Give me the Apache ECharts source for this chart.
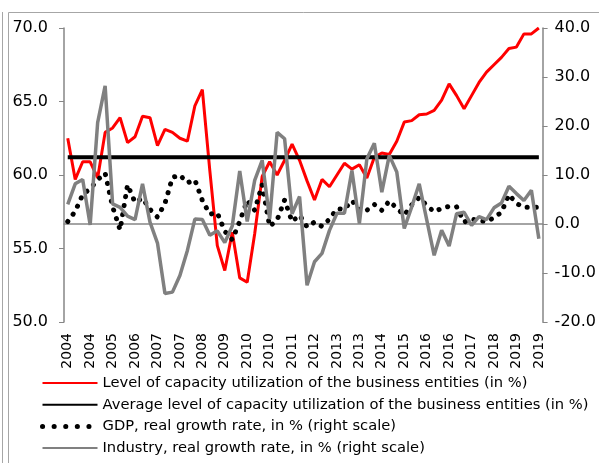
<!DOCTYPE html>
<html>
<head>
<meta charset="utf-8">
<script src="https://cdn.jsdelivr.net/npm/echarts@6/dist/echarts.min.js"></script>
<style>
  html, body { margin: 0; padding: 0; background: #fff; }
  #chart { width: 599px; height: 463px; }
</style>
</head>
<body>
<div id="chart"></div>
<script>
// quarterly data, 2004Q1 - 2019Q4
const years = ['2004', '2005', '2006', '2007', '2008', '2009', '2010', '2011',
  '2012', '2013', '2014', '2015', '2016', '2017', '2018', '2019']
const categories = []
years.forEach((y) => { for (let q = 0; q < 4; q++) categories.push(y) })

// capacity utilization, % (left scale)
const capacityUtil = [
  62.5, 59.7, 60.9, 60.9, 59.8, 62.9, 63.2, 63.9, 62.2, 62.6,
  64.0, 63.9, 62.0, 63.1, 62.9, 62.5, 62.3, 64.7, 65.8, 60.3,
  55.2, 53.5, 56.1, 53.0, 52.7, 56.0, 59.9, 60.9, 60.0, 61.0,
  62.1, 61.0, 59.6, 58.3, 59.7, 59.2, 60.0, 60.8, 60.4, 60.7,
  59.8, 61.2, 61.5, 61.4, 62.3, 63.6, 63.7, 64.1, 64.15, 64.4,
  65.1, 66.2, 65.4, 64.5, 65.4, 66.3, 67.0, 67.5, 68.0, 68.6,
  68.7, 69.6, 69.6, 70.0,
]
// average capacity utilization, %
const avgCapacity = 61.2

// GDP real growth, % (right scale)
const gdpGrowth = [
  0.5, 2.6, 6.0, 7.2, 9.0, 10.4, 3.5, -1.2, 8.0, 4.4,
  5.3, 3.0, 1.4, 4.2, 9.5, 10.0, 8.4, 9.0, 4.8, 2.0,
  2.3, -1.5, -3.2, 0.5, 4.8, 2.8, 8.0, -0.5, 0.8, 4.9,
  0.5, 1.8, -0.6, 0.4, -0.5, 1.0, 3.1, 3.0, 4.8, 2.8,
  2.8, 4.0, 2.8, 4.7, 3.2, 1.8, 3.9, 5.4, 3.8, 2.5,
  3.2, 3.6, 3.5, 0.4, 1.0, 0.7, 0.5, 1.3, 2.4, 6.0,
  4.2, 3.4, 3.4, 3.4,
]

// industry real growth, % (right scale)
const industryGrowth = [
  4.0, 8.2, 9.1, -0.2, 20.7, 28.2, 4.1, 3.4, 1.6, 0.9,
  8.2, 0.4, -3.9, -14.2, -13.9, -10.5, -5.4, 1.0, 0.9, -2.3,
  -1.4, -3.8, -0.4, 10.8, 0.5, 8.9, 13.0, 1.0, 18.7, 17.4,
  2.1, 5.6, -12.5, -7.7, -6.0, -1.3, 2.2, 2.2, 10.9, 0.1,
  13.3, 16.5, 6.5, 14.0, 10.6, -0.9, 3.5, 8.2, 0.9, -6.4,
  -1.3, -4.5, 2.1, 2.4, -0.3, 1.5, 0.9, 3.3, 4.3, 7.7,
  6.2, 4.8, 6.9, -3.0,
]

const leftTicks = { min: 50, max: 70, interval: 5 }
const rightTicks = { min: -20, max: 40, interval: 10 }

const font = 'DejaVu Sans'
const axisGray = '#868686'

const chart = echarts.init(document.getElementById('chart'))

const option = {
  animation: false,
  textStyle: { fontFamily: font },
  grid: { left: 64, right: 53, top: 28, bottom: 141 },
  legend: {
    orient: 'vertical',
    left: 40,
    top: 375.5,
    padding: 0,
    itemWidth: 55,
    itemHeight: 14,
    itemGap: 6.7,
    itemStyle: { opacity: 0 },
    textStyle: { fontSize: 14.7, lineHeight: 15, color: '#000', fontFamily: font },
    data: [
      'Level of capacity utilization of the business entities (in %)',
      'Average level of capacity utilization of the business entities (in %)',
      {
        name: 'GDP, real growth rate, in % (right scale)',
        lineStyle: { width: 5, type: [0.1, 11.5], cap: 'round' },
      },
      'Industry, real growth rate, in % (right scale)',
    ],
  },
  graphic: [
    { type: 'line', shape: { x1: 2.5, y1: 12, x2: 2.5, y2: 463 }, style: { stroke: '#a6a6a6', lineWidth: 1 } },
    { type: 'line', shape: { x1: 8.5, y1: 12.5, x2: 8.5, y2: 463 }, style: { stroke: '#a6a6a6', lineWidth: 1 } },
    { type: 'line', shape: { x1: 8.5, y1: 12.5, x2: 599, y2: 12.5 }, style: { stroke: '#a6a6a6', lineWidth: 1 } },
  ],
  xAxis: {
    type: 'category',
    data: categories,
    boundaryGap: true,
    axisLine: { lineStyle: { color: axisGray, width: 1.5 } },
    axisTick: { interval: 0, length: 5, lineStyle: { color: axisGray } },
    axisLabel: {
      interval: 2,
      rotate: 90,
      margin: 11,
      fontSize: 14,
      color: '#000',
      fontFamily: font,
    },
    splitLine: { show: false },
  },
  yAxis: [
    {
      type: 'value',
      position: 'left',
      min: leftTicks.min,
      max: leftTicks.max,
      interval: leftTicks.interval,
      axisLine: { show: true, lineStyle: { color: axisGray, width: 1.5 } },
      axisTick: { show: true, length: 5, lineStyle: { color: axisGray } },
      axisLabel: {
        margin: 16,
        fontSize: 16,
        color: '#000',
        fontFamily: font,
        formatter: (v) => v.toFixed(1),
      },
      splitLine: { show: false },
    },
    {
      type: 'value',
      position: 'right',
      min: rightTicks.min,
      max: rightTicks.max,
      interval: rightTicks.interval,
      axisLine: { show: true, lineStyle: { color: axisGray, width: 1.5 } },
      axisTick: { show: true, length: 5, lineStyle: { color: axisGray } },
      axisLabel: {
        margin: 12,
        fontSize: 16,
        color: '#000',
        fontFamily: font,
        formatter: (v) => v.toFixed(1),
      },
      splitLine: { show: false },
    },
  ],
  series: [
    {
      name: 'Level of capacity utilization of the business entities (in %)',
      type: 'line',
      yAxisIndex: 0,
      symbol: 'none',
      data: capacityUtil,
      lineStyle: { color: '#ff0000', width: 3 },
      itemStyle: { color: '#ff0000' },
    },
    {
      name: 'Average level of capacity utilization of the business entities (in %)',
      type: 'line',
      yAxisIndex: 0,
      symbol: 'none',
      data: categories.map(() => avgCapacity),
      lineStyle: { color: '#000000', width: 4 },
      itemStyle: { color: '#000000' },
    },
    {
      name: 'GDP, real growth rate, in % (right scale)',
      type: 'line',
      yAxisIndex: 1,
      symbol: 'none',
      data: gdpGrowth,
      lineStyle: { color: '#000000', width: 5, type: [0.1, 9], cap: 'round' },
      itemStyle: { color: '#000000' },
    },
    {
      name: 'Industry, real growth rate, in % (right scale)',
      type: 'line',
      yAxisIndex: 1,
      symbol: 'none',
      data: industryGrowth,
      lineStyle: { color: '#808080', width: 3.5 },
      itemStyle: { color: '#808080' },
    },
  ],
}

chart.setOption(option)
</script>
</body>
</html>
